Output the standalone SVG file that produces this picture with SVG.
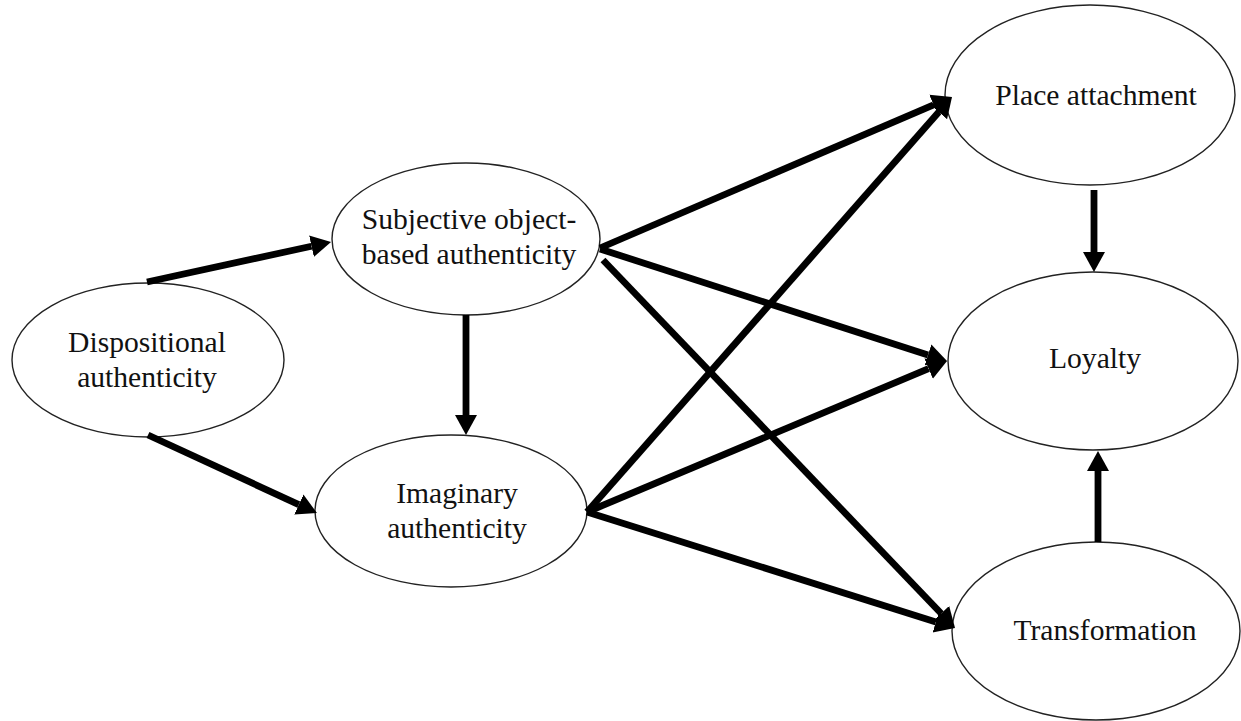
<svg xmlns="http://www.w3.org/2000/svg" width="1241" height="721" viewBox="0 0 1241 721">
  <style>
    .node ellipse { fill: #ffffff; stroke: #222222; stroke-width: 1.4; }
    .node text { font-family: "Liberation Serif", "Times New Roman", serif; font-size: 29.6px; fill: #111111; text-anchor: middle; }
    .edge { stroke: #000000; stroke-width: 6.8; fill: none; marker-end: url(#head); }
  </style>
  <defs>
    <marker id="head" markerUnits="userSpaceOnUse" markerWidth="22" markerHeight="24" refX="0" refY="12" orient="auto">
      <path d="M0,1 L20,12 L0,23 Z" fill="#000000"/>
    </marker>
  </defs>
  <rect width="1241" height="721" fill="#ffffff"/>

  <!-- nodes -->
  <g id="dispositional" class="node">
    <ellipse cx="148" cy="360" rx="136" ry="77"/>
    <text x="147" y="352">Dispositional</text>
    <text x="147" y="387">authenticity</text>
  </g>
  <g id="subjective" class="node">
    <ellipse cx="466" cy="239" rx="134" ry="76"/>
    <text x="469" y="229">Subjective object-</text>
    <text x="469" y="264">based authenticity</text>
  </g>
  <g id="imaginary" class="node">
    <ellipse cx="451" cy="511" rx="136" ry="76"/>
    <text x="457" y="503">Imaginary</text>
    <text x="457" y="538">authenticity</text>
  </g>
  <g id="place" class="node">
    <ellipse cx="1090" cy="95" rx="145" ry="90"/>
    <text x="1096" y="105">Place attachment</text>
  </g>
  <g id="loyalty" class="node">
    <ellipse cx="1093" cy="361" rx="145" ry="89"/>
    <text x="1095" y="368">Loyalty</text>
  </g>
  <g id="transformation" class="node">
    <ellipse cx="1096" cy="631" rx="144" ry="89"/>
    <text x="1105" y="640">Transformation</text>
  </g>

  <!-- connectors: each line stops at the arrowhead base; the marker supplies the tip -->
  <g id="connectors">
    <line class="edge" x1="147" y1="282" x2="311.5" y2="246.2"/>
    <line class="edge" x1="148" y1="435" x2="298.8" y2="504.6"/>
    <line class="edge" x1="466" y1="315" x2="466" y2="415"/>
    <line class="edge" x1="600" y1="248" x2="933.6" y2="104.9"/>
    <line class="edge" x1="600" y1="249" x2="928" y2="354.9"/>
    <line class="edge" x1="603" y1="260" x2="941.2" y2="613.5"/>
    <line class="edge" x1="587" y1="512" x2="938.8" y2="112"/>
    <line class="edge" x1="587" y1="512" x2="928.6" y2="368.7"/>
    <line class="edge" x1="587" y1="512" x2="935.9" y2="622"/>
    <line class="edge" x1="1094" y1="190" x2="1094" y2="252"/>
    <line class="edge" x1="1098" y1="542" x2="1098" y2="471"/>
  </g>
</svg>
